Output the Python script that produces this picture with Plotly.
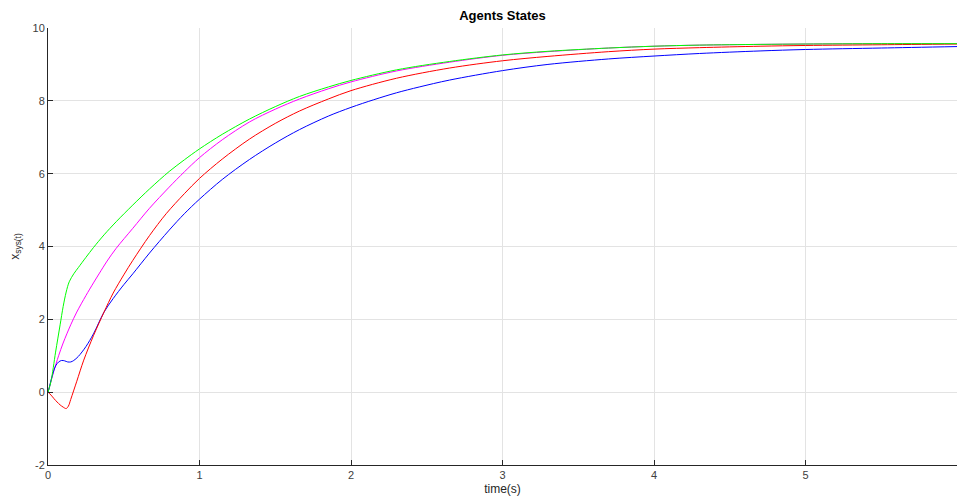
import plotly.graph_objects as go

# ---- data ----
t_green = [0, 0.02, 0.05, 0.08, 0.1, 0.12, 0.14, 0.17, 0.2, 0.25, 0.3, 0.37, 0.45, 0.56, 0.67, 0.8, 0.9,
           1.0, 1.15, 1.33, 1.5, 1.66, 1.85, 2.0, 2.3, 2.65, 3.0, 3.3, 3.7, 4.0, 4.3, 4.7, 5.0, 5.5, 6.0]
x_green = [0, 0.3, 1.1, 1.85, 2.35, 2.75, 3.03, 3.25, 3.42, 3.7, 3.97, 4.32, 4.68, 5.14, 5.58, 6.06, 6.38,
           6.68, 7.08, 7.5, 7.84, 8.12, 8.38, 8.56, 8.85, 9.08, 9.26, 9.36, 9.45, 9.5, 9.53, 9.55, 9.56, 9.57, 9.57]

t_magenta = [0, 0.02, 0.04, 0.07, 0.1, 0.15, 0.19, 0.25, 0.3, 0.34, 0.39, 0.45, 0.56, 0.67, 0.8, 0.9,
             1.0, 1.15, 1.33, 1.5, 1.66, 1.85, 2.0, 2.3, 2.65, 3.0, 3.3, 3.7, 4.0, 4.3, 4.7, 5.0, 5.5, 6.0]
x_magenta = [0, 0.3, 0.6, 1.0, 1.35, 1.85, 2.2, 2.65, 3.0, 3.27, 3.6, 3.95, 4.5, 5.05, 5.63, 6.05,
             6.44, 6.93, 7.42, 7.77, 8.05, 8.33, 8.52, 8.82, 9.06, 9.25, 9.35, 9.45, 9.5, 9.53, 9.55, 9.56, 9.57, 9.57]

t_red = [0, 0.02, 0.04, 0.06, 0.08, 0.1, 0.12, 0.135, 0.15, 0.19, 0.236, 0.3, 0.37, 0.43, 0.5, 0.56,
         0.67, 0.78, 0.9, 1.0, 1.15, 1.33, 1.5, 1.66, 1.85, 2.0, 2.3, 2.65, 3.0, 3.3, 3.7, 4.0, 4.3, 4.7,
         5.0, 5.5, 6.0]
x_red = [0, -0.08, -0.18, -0.27, -0.35, -0.41, -0.45, -0.38, -0.2, 0.3, 0.88, 1.55, 2.2, 2.72, 3.22, 3.62,
         4.3, 4.9, 5.45, 5.87, 6.4, 6.95, 7.38, 7.72, 8.05, 8.28, 8.62, 8.9, 9.1, 9.22, 9.35, 9.42, 9.46, 9.5,
         9.52, 9.54, 9.56]

t_blue = [0, 0.01, 0.02, 0.035, 0.05, 0.07, 0.09, 0.11, 0.13, 0.15, 0.17, 0.2, 0.25, 0.3, 0.37, 0.43,
          0.5, 0.56, 0.67, 0.8, 0.9, 1.0, 1.15, 1.33, 1.5, 1.66, 1.85, 2.0, 2.15, 2.3, 2.45, 2.65, 3.0, 3.3,
          3.7, 4.0, 4.3, 4.7, 5.0, 5.5, 6.0]
x_blue = [0, 0.15, 0.33, 0.55, 0.72, 0.83, 0.87, 0.86, 0.83, 0.83, 0.87, 0.98, 1.25, 1.6, 2.2, 2.57,
          2.95, 3.25, 3.82, 4.45, 4.9, 5.3, 5.84, 6.39, 6.84, 7.21, 7.58, 7.82, 8.03, 8.22, 8.38, 8.57, 8.83, 9.0,
          9.15, 9.23, 9.3, 9.37, 9.41, 9.45, 9.49]

x_ticks = [0, 1, 2, 3, 4, 5]
y_ticks = [-2, 0, 2, 4, 6, 8, 10]

series = [
    ("magenta", t_magenta, x_magenta, "#ff00ff"),
    ("blue", t_blue, x_blue, "#0000ff"),
    ("red", t_red, x_red, "#ff0000"),
    ("green", t_green, x_green, "#00ff00"),
]

fig = go.Figure()
for name, t, x, c in series:
    fig.add_trace(go.Scatter(x=t, y=x, mode="lines", name=name,
                             line=dict(color=c, width=1, shape="spline", smoothing=0.9),
                             showlegend=False))

FONT = "Liberation Sans, Arial, sans-serif"
axis_font = dict(family=FONT, size=11, color="#404040")
fig.update_layout(
    width=957, height=504,
    margin=dict(l=48, r=0, t=28, b=39),
    paper_bgcolor="white", plot_bgcolor="white",
    title=dict(text="<b>Agents States</b>", x=0.5, xref="paper", y=1 - 15 / 504, yref="container",
               yanchor="middle", xanchor="center",
               font=dict(family=FONT, size=13, color="#000000")),
    xaxis=dict(range=[0, 6], tickvals=x_ticks, ticktext=[str(v) for v in x_ticks],
               showgrid=True, gridcolor="#e3e3e3", gridwidth=1, zeroline=False,
               showline=True, linecolor="#262626", linewidth=1, mirror=False,
               ticks="inside", ticklen=5, tickcolor="#262626", tickfont=axis_font,
               title=dict(text="time(s)", font=dict(family=FONT, size=12, color="#262626"), standoff=4)),
    yaxis=dict(range=[-2, 10], tickvals=y_ticks, ticktext=[str(v) for v in y_ticks],
               showgrid=True, gridcolor="#e3e3e3", gridwidth=1, zeroline=False,
               showline=True, linecolor="#262626", linewidth=1, mirror=False,
               ticks="inside", ticklen=5, tickcolor="#262626", tickfont=axis_font,
               title=dict(text="x<sub>sys(t)</sub>", font=dict(family=FONT, size=12, color="#262626"),
                          standoff=10)),
)

fig.write_html("out.html")
